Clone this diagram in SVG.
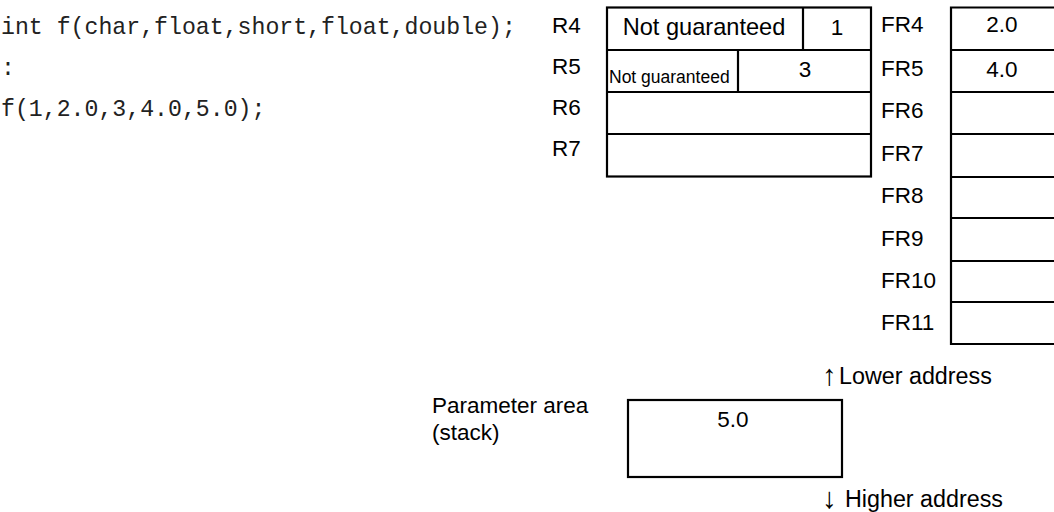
<svg xmlns="http://www.w3.org/2000/svg" width="1054" height="512" viewBox="0 0 1054 512">
<style>
.t{font-family:"Liberation Sans",Arial,sans-serif;font-size:22.5px;fill:#000}
.s{font-family:"Liberation Sans",Arial,sans-serif;font-size:17.5px;fill:#000}
.c{font-family:"Liberation Mono","Courier New",monospace;font-size:23.2px;fill:#222}
.a{font-size:29px}
.m{text-anchor:middle}
.b{fill:none;stroke:#000;stroke-width:2.2}
</style>
<rect width="1054" height="512" fill="#fff"/>
<g id="code">
<text class="c" x="1" y="34">int f(char,float,short,float,double);</text>
<text class="c" x="1" y="75">:</text>
<text class="c" x="1" y="116">f(1,2.0,3,4.0,5.0);</text>
</g>
<g id="r-labels">
<text class="t" x="552" y="33">R4</text>
<text class="t" x="552" y="74">R5</text>
<text class="t" x="552" y="115">R6</text>
<text class="t" x="552" y="156">R7</text>
</g>
<g id="r-registers">
<rect class="b" x="607" y="7.5" width="264" height="169"/>
<line class="b" x1="607" y1="50" x2="871" y2="50"/>
<line class="b" x1="607" y1="92" x2="871" y2="92"/>
<line class="b" x1="607" y1="134" x2="871" y2="134"/>
<line class="b" x1="803" y1="7.5" x2="803" y2="50"/>
<line class="b" x1="738" y1="50" x2="738" y2="92"/>
<text class="t m" x="704" y="35" style="font-size:23.6px">Not guaranteed</text>
<text class="t m" x="837" y="35">1</text>
<text class="s" x="609" y="83">Not guaranteed</text>
<text class="t m" x="805" y="77">3</text>
</g>
<g id="fr-labels">
<text class="t" x="881" y="32">FR4</text>
<text class="t" x="881" y="76">FR5</text>
<text class="t" x="881" y="118">FR6</text>
<text class="t" x="881" y="161">FR7</text>
<text class="t" x="881" y="203">FR8</text>
<text class="t" x="881" y="246">FR9</text>
<text class="t" x="881" y="288">FR10</text>
<text class="t" x="881" y="330">FR11</text>
</g>
<g id="fr-registers">
<path class="b" d="M1056 7.5H951V344H1056"/>
<line class="b" x1="951" y1="50" x2="1056" y2="50"/>
<line class="b" x1="951" y1="92" x2="1056" y2="92"/>
<line class="b" x1="951" y1="134" x2="1056" y2="134"/>
<line class="b" x1="951" y1="177" x2="1056" y2="177"/>
<line class="b" x1="951" y1="218" x2="1056" y2="218"/>
<line class="b" x1="951" y1="261" x2="1056" y2="261"/>
<line class="b" x1="951" y1="302" x2="1056" y2="302"/>
<text class="t m" x="1002" y="32">2.0</text>
<text class="t m" x="1002" y="77">4.0</text>
</g>
<g id="stack">
<text class="t" x="432" y="413">Parameter area</text>
<text class="t" x="432" y="440">(stack)</text>
<rect class="b" x="628" y="400" width="214" height="77"/>
<text class="t m" x="733" y="427">5.0</text>
</g>
<g id="addresses">
<text class="t" x="822" y="385"><tspan class="a">↑</tspan><tspan x="839" y="384" style="font-size:23.3px">Lower address</tspan></text>
<text class="t" x="822" y="508"><tspan class="a">↓</tspan><tspan x="845" y="507" style="font-size:23.3px">Higher address</tspan></text>
</g>
</svg>
